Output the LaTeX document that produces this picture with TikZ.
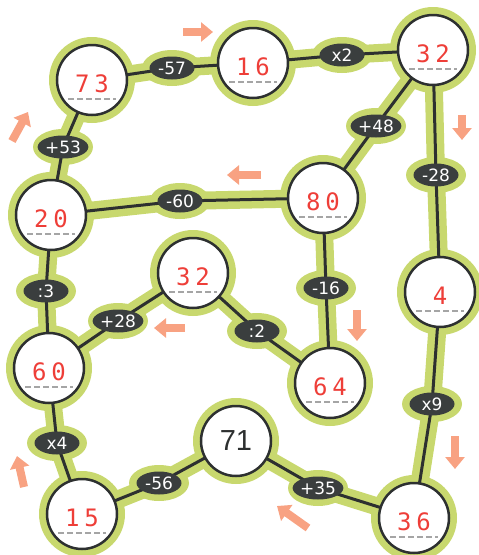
\documentclass[tikz,border=0pt]{standalone}
\usepackage{fontspec}
\usetikzlibrary{shapes.geometric,arrows.meta}
\newfontfamily\numfont{DejaVu Sans Mono}
\newfontfamily\opfont{DejaVu Sans}
\newfontfamily\blkfont{Liberation Sans}
\definecolor{halo}{RGB}{200,216,110}
\definecolor{ink}{RGB}{45,48,48}
\definecolor{ovalfill}{RGB}{58,62,62}
\definecolor{numred}{RGB}{238,62,56}
\definecolor{arrowc}{RGB}{248,162,130}
\definecolor{dashc}{RGB}{165,165,165}
\pgfdeclarelayer{halolayer}
\pgfdeclarelayer{linelayer}
\pgfsetlayers{halolayer,linelayer,main}
\newcommand\dgap{\kern5pt}
\newcommand\numcirc[3]{%
  \node[numnode] (#1) at (#2) {};
  \node[numtext] (#1t) at ([yshift=-4pt]#1.center) {#3};
}
\begin{document}
\begin{tikzpicture}[x=1pt,y=-1pt,
  numnode/.style={circle, draw=ink, line width=2.5pt, fill=white, minimum size=70pt, inner sep=0pt,
    path picture={\draw[dashc, line width=1.5pt, dash pattern=on 6pt off 3pt]
      ([xshift=-24pt,yshift=-19pt]path picture bounding box.center) -- ++(48pt,0);}},
  plaincirc/.style={circle, draw=ink, line width=2.5pt, fill=white, minimum size=70pt, inner sep=0pt,
    text=ink, font=\blkfont\fontsize{29}{29}\selectfont},
  numtext/.style={inner sep=0pt, text=numred, font=\numfont\fontsize{24}{24}\selectfont},
  op/.style={ellipse, fill=ovalfill, minimum width=45pt, minimum height=23pt, inner sep=0pt,
    text=white, font=\opfont\fontsize{17}{17}\selectfont},
  haloline/.style={halo, line width=18pt, line join=round, line cap=round},
  edge/.style={ink, line width=3pt},
  bigarrow/.style={arrowc, line width=8pt, -{Triangle[length=12pt, width=19pt]}}
]
\useasboundingbox (0,0) rectangle (479,555);

% circles
\numcirc{n73}{92,80}{7\dgap 3}
\numcirc{n16}{253,63}{1\dgap 6}
\numcirc{n32a}{433,50}{3\dgap 2}
\numcirc{n80}{323,198}{8\dgap 0}
\numcirc{n20}{51,215}{2\dgap 0}
\numcirc{n4}{440,292}{4}
\numcirc{n32b}{193,273}{3\dgap 2}
\numcirc{n60}{49,368}{6\dgap 0}
\numcirc{n64}{330,383}{6\dgap 4}
\node[plaincirc] (n71) at (236,441) {71};
\numcirc{n15}{82,514}{1\dgap 5}
\numcirc{n36}{414,518}{3\dgap 6}

% operation ovals
\node[op] (om57) at (172,68) {-57};
\node[op] (ox2) at (342,55) {x2};
\node[op] (op48) at (376,126) {+48};
\node[op] (om28) at (436,175) {-28};
\node[op] (om60) at (180,201) {-60};
\node[op] (op53) at (63,147) {+53};
\node[op] (od3) at (46,291) {:3};
\node[op] (op28) at (118,321) {+28};
\node[op] (od2) at (257,331) {:2};
\node[op] (om16) at (326,288) {-16};
\node[op] (ox9) at (432,404) {x9};
\node[op] (op35) at (318,488) {+35};
\node[op] (om56) at (159,483) {-56};
\node[op] (ox4) at (57,443) {x4};

\begin{pgfonlayer}{halolayer}
  \foreach \a/\b/\c in {n73/om57/n16, n16/ox2/n32a, n32a/op48/n80, n32a/om28/n4,
      n80/om60/n20, n20/op53/n73, n20/od3/n60, n60/op28/n32b, n32b/od2/n64,
      n80/om16/n64, n4/ox9/n36, n36/op35/n71, n71/om56/n15, n15/ox4/n60}
    \draw[haloline] (\a.center) -- (\b.center) -- (\c.center);
  \foreach \n in {n73,n16,n32a,n80,n20,n4,n32b,n60,n64,n71,n15,n36}
    \fill[halo] (\n.center) circle (43pt);
  \foreach \o in {om57,ox2,op48,om28,om60,op53,od3,op28,od2,om16,ox9,op35,om56,ox4}
    \fill[halo] (\o.center) ellipse (30pt and 18pt);
\end{pgfonlayer}

\begin{pgfonlayer}{linelayer}
  \foreach \a/\b/\c in {n73/om57/n16, n16/ox2/n32a, n32a/op48/n80, n32a/om28/n4,
      n80/om60/n20, n20/op53/n73, n20/od3/n60, n60/op28/n32b, n32b/od2/n64,
      n80/om16/n64, n4/ox9/n36, n36/op35/n71, n71/om56/n15, n15/ox4/n60}
    \draw[edge] (\a.center) -- (\b.center) -- (\c.center);
\end{pgfonlayer}

% direction arrows
\draw[bigarrow] (183,32) -- (213,32);
\draw[bigarrow] (12,141) -- (28,112);
\draw[bigarrow] (261,175) -- (227,175);
\draw[bigarrow] (185,328) -- (154,328);
\draw[bigarrow] (357,310) -- (357,341);
\draw[bigarrow] (462,115) -- (462,140);
\draw[bigarrow] (455,436) -- (455,469);
\draw[bigarrow] (24,487) -- (17,456);
\draw[bigarrow] (308,528) -- (277,506);
\end{tikzpicture}
\end{document}
